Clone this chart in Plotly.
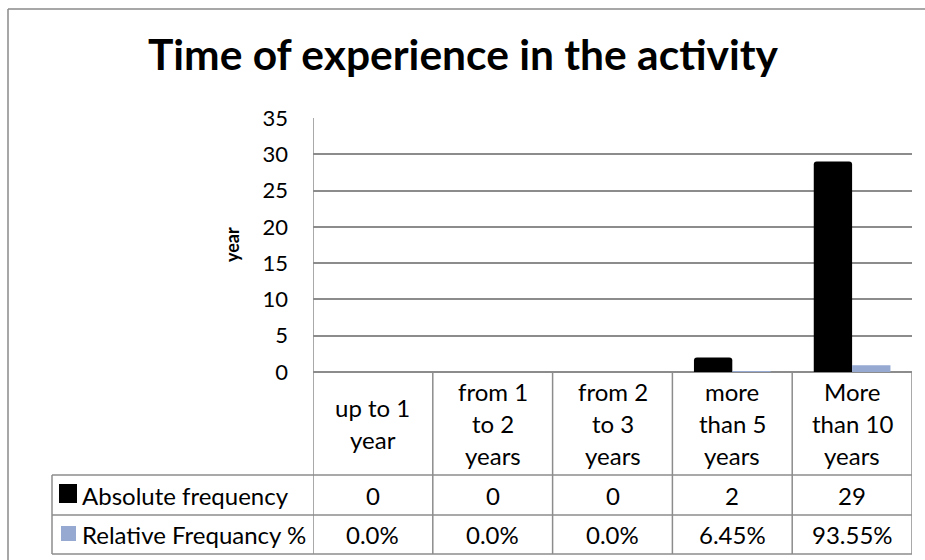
import plotly.graph_objects as go

# ---- data ----
categories = ["up to 1<br>year", "from 1<br>to 2<br>years", "from 2<br>to 3<br>years",
              "more<br>than 5<br>years", "More<br>than 10<br>years"]
abs_freq = [0, 0, 0, 2, 29]
rel_pct = [0.0, 0.0, 0.0, 6.45, 93.55]
series_names = ["Absolute frequency", "Relative Frequancy %"]
y_ticks = [0, 5, 10, 15, 20, 25, 30, 35]
title_text = "Time of experience in the activity"
y_title = "year"

# ---- layout constants (pixels) ----
W, H = 925, 560
FONT = "Lato"
BLACK = "#000000"
BLUE = "#95A9D1"
GRID = "#8C8C8C"
TFS = 24  # table font size

def py(p):  # pixel y (top-down) -> paper y
    return (H - p) / H

def px(p):
    return p / W

plot_left, plot_right = 313, 912
plot_top, plot_bottom = 118, 372
row1_top, row2_top, table_bottom = 475, 515, 554
table_left = 52

n = len(categories)
x_idx = list(range(n))
rel_frac = [v / 100 for v in rel_pct]

fig = go.Figure()
fig.add_trace(go.Bar(x=x_idx, y=abs_freq, name=series_names[0], marker_color=BLACK,
                     marker_line_width=0, marker_cornerradius=3))
fig.add_trace(go.Bar(x=x_idx, y=rel_frac, name=series_names[1], marker_color=BLUE,
                     marker_line_width=0))

shapes = []
annotations = []

# outer chart border (top and left edges visible)
border = dict(color="#8A8A8A", width=1.5)
shapes.append(dict(type="line", xref="paper", yref="paper", x0=px(8), x1=1,
                   y0=py(9), y1=py(9), line=border))
shapes.append(dict(type="line", xref="paper", yref="paper", x0=px(8), x1=px(8),
                   y0=0, y1=py(9), line=border))

line_style = dict(color=GRID, width=1.5)
# vertical line at plot left through table
shapes.append(dict(type="line", xref="x", yref="paper", x0=-0.5, x1=-0.5,
                   y0=py(table_bottom), y1=py(plot_top), line=line_style))
# column separators in table
for i in range(n):
    shapes.append(dict(type="line", xref="x", yref="paper", x0=i + 0.5, x1=i + 0.5,
                       y0=py(table_bottom), y1=py(plot_bottom), line=line_style))
# horizontal table lines (full width)
for yy in [row1_top, row2_top, table_bottom]:
    shapes.append(dict(type="line", xref="paper", yref="paper", x0=px(table_left),
                       x1=px(plot_right), y0=py(yy), y1=py(yy), line=line_style))
# table left border
shapes.append(dict(type="line", xref="paper", yref="paper", x0=px(table_left),
                   x1=px(table_left), y0=py(table_bottom), y1=py(row1_top), line=line_style))

# category header text, line by line
hdr_center = (plot_bottom + row1_top) / 2
line_gap = 32
for i, cat in enumerate(categories):
    lines = cat.split("<br>")
    k = len(lines)
    for j, ln in enumerate(lines):
        yc = hdr_center + (j - (k - 1) / 2) * line_gap
        annotations.append(dict(x=i, xref="x", y=py(yc), yref="paper", text=ln,
                                showarrow=False, xanchor="center", yanchor="middle",
                                font=dict(family=FONT, size=TFS, color="#000000")))

# table values
r1c = (row1_top + row2_top) / 2
r2c = (row2_top + table_bottom) / 2
for i in range(n):
    annotations.append(dict(x=i, xref="x", y=py(r1c), yref="paper", text=str(abs_freq[i]),
                            showarrow=False, xanchor="center", yanchor="middle",
                            font=dict(family=FONT, size=TFS, color="#000000")))
    v = rel_pct[i]
    lbl = f"{v:.1f}%" if v == 0 else f"{v:.2f}%"
    annotations.append(dict(x=i, xref="x", y=py(r2c), yref="paper", text=lbl,
                            showarrow=False, xanchor="center", yanchor="middle",
                            font=dict(family=FONT, size=TFS, color="#000000")))

# legend keys in table
shapes.append(dict(type="rect", xref="paper", yref="paper", x0=px(59), x1=px(77),
                   y0=py(503), y1=py(484), fillcolor=BLACK, line=dict(width=0)))
shapes.append(dict(type="rect", xref="paper", yref="paper", x0=px(61), x1=px(76),
                   y0=py(541), y1=py(526), fillcolor=BLUE, line=dict(width=0)))
annotations.append(dict(x=px(80), xref="paper", y=py(r1c), yref="paper", text=series_names[0],
                        showarrow=False, xanchor="left", yanchor="middle",
                        font=dict(family=FONT, size=TFS, color="#000000")))
annotations.append(dict(x=px(80), xref="paper", y=py(r2c), yref="paper", text=series_names[1],
                        showarrow=False, xanchor="left", yanchor="middle",
                        font=dict(family=FONT, size=TFS, color="#000000")))

# title
annotations.append(dict(x=px(463), xref="paper", y=py(54), yref="paper",
                        text=f"<b>{title_text}</b>", showarrow=False,
                        xanchor="center", yanchor="middle",
                        font=dict(family=FONT, size=42.5, color="#000000")))
# y title
annotations.append(dict(x=px(232), xref="paper", y=py(245), yref="paper",
                        text=f"<b>{y_title}</b>", showarrow=False, textangle=-90,
                        xanchor="center", yanchor="middle",
                        font=dict(family=FONT, size=18, color="#000000")))

fig.update_layout(
    width=W, height=H,
    margin=dict(l=0, r=0, t=0, b=0, pad=0, autoexpand=False),
    paper_bgcolor="white", plot_bgcolor="white",
    showlegend=False,
    barmode="group", bargap=0.36, bargroupgap=0,
    shapes=shapes, annotations=annotations,
    xaxis=dict(domain=[px(plot_left), px(plot_right)], range=[-0.5, n - 0.5],
               showticklabels=False, showgrid=False, zeroline=False, showline=False,
               automargin=False, fixedrange=True),
    yaxis=dict(domain=[py(plot_bottom), py(plot_top)], range=[0, 35], tickvals=y_ticks,
               showgrid=True, gridcolor=GRID, gridwidth=1.5, zeroline=True,
               zerolinecolor=GRID, zerolinewidth=1.5, showline=False, ticks="",
               ticklabelstandoff=24, automargin=False,
               tickfont=dict(family=FONT, size=22, color="#000000"), fixedrange=True),
)

fig.write_html("out.html", config={"displayModeBar": False},
               post_script="document.body.style.margin='0';document.body.style.overflow='hidden';")
